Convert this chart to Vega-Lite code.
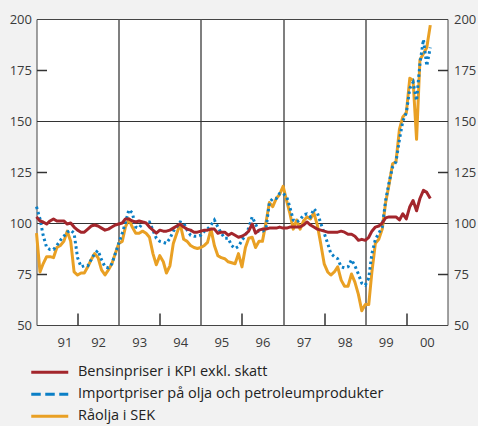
{
"$schema": "https://vega.github.io/schema/vega-lite/v6.json",
"width": 411, "height": 306,
"autosize": "none",
"padding": {"left": 36.5, "top": 19, "right": 30.5, "bottom": 101},
"background": "#f2f2f2",
"config": {
  "view": {"fill": "white", "stroke": "#444", "strokeWidth": 1},
  "axis": {"labelFont": "Open Sans", "labelFontSize": 13, "labelColor": "#3a3a3a", "tickColor": "#333", "tickWidth": 1.5, "domain": false, "title": null}
},
"data": {"values": [
{"m":"1991-01","a":103,"b":108,"c":95},{"m":"1991-02","a":101,"b":102,"c":76},{"m":"1991-03","a":100.5,"b":94,"c":80},{"m":"1991-04","a":99.5,"b":88,"c":83.5},{"m":"1991-05","a":101,"b":87,"c":83.5},{"m":"1991-06","a":102,"b":87,"c":83},{"m":"1991-07","a":101,"b":89,"c":88},{"m":"1991-08","a":101,"b":91.5,"c":89},{"m":"1991-09","a":101,"b":93.5,"c":91},{"m":"1991-10","a":99.5,"b":95.5,"c":96},{"m":"1991-11","a":100,"b":96.5,"c":91},{"m":"1991-12","a":98,"b":95,"c":76},
{"m":"1992-01","a":96.5,"b":83,"c":74.5},{"m":"1992-02","a":95.5,"b":78.5,"c":75.5},{"m":"1992-03","a":95.5,"b":79,"c":75.5},{"m":"1992-04","a":97,"b":79,"c":78.5},{"m":"1992-05","a":98.5,"b":82,"c":82},{"m":"1992-06","a":99,"b":85,"c":85},{"m":"1992-07","a":98.5,"b":86.5,"c":83},{"m":"1992-08","a":97.5,"b":82,"c":77},{"m":"1992-09","a":96.5,"b":78.5,"c":74.5},{"m":"1992-10","a":97,"b":78,"c":77},{"m":"1992-11","a":98,"b":80,"c":80},{"m":"1992-12","a":99,"b":85,"c":85},
{"m":"1993-01","a":99.5,"b":90,"c":90},{"m":"1993-02","a":100,"b":95,"c":91},{"m":"1993-03","a":102,"b":100,"c":98},{"m":"1993-04","a":102,"b":106.5,"c":102},{"m":"1993-05","a":101,"b":105,"c":98},{"m":"1993-06","a":100.5,"b":98,"c":95},{"m":"1993-07","a":101,"b":97.5,"c":95},{"m":"1993-08","a":100.5,"b":100,"c":96},{"m":"1993-09","a":100,"b":100.5,"c":95},{"m":"1993-10","a":98,"b":100.5,"c":93},{"m":"1993-11","a":96.5,"b":96.5,"c":85},{"m":"1993-12","a":95,"b":92.5,"c":79.5},
{"m":"1994-01","a":96.5,"b":91,"c":84},{"m":"1994-02","a":96,"b":90.5,"c":81},{"m":"1994-03","a":96,"b":90,"c":75.5},{"m":"1994-04","a":96.5,"b":92.5,"c":79},{"m":"1994-05","a":97.5,"b":96,"c":90},{"m":"1994-06","a":98.5,"b":98,"c":95},{"m":"1994-07","a":99.5,"b":100.5,"c":99.5},{"m":"1994-08","a":98,"b":100,"c":92},{"m":"1994-09","a":97,"b":96.5,"c":91},{"m":"1994-10","a":96.5,"b":94,"c":89},{"m":"1994-11","a":95.5,"b":93.5,"c":88},{"m":"1994-12","a":95.5,"b":93.5,"c":87.5},
{"m":"1995-01","a":96,"b":94,"c":88},{"m":"1995-02","a":96.5,"b":96,"c":89},{"m":"1995-03","a":96.5,"b":97,"c":90.5},{"m":"1995-04","a":97,"b":99,"c":97},{"m":"1995-05","a":97,"b":101.5,"c":89},{"m":"1995-06","a":95,"b":98,"c":84},{"m":"1995-07","a":95.5,"b":95,"c":83},{"m":"1995-08","a":95.5,"b":92.5,"c":82.5},{"m":"1995-09","a":94,"b":92.5,"c":81},{"m":"1995-10","a":95,"b":89,"c":80.5},{"m":"1995-11","a":94,"b":87.5,"c":80},{"m":"1995-12","a":93,"b":88.5,"c":85},
{"m":"1996-01","a":93.5,"b":91.5,"c":78.5},{"m":"1996-02","a":94.5,"b":94,"c":88},{"m":"1996-03","a":96,"b":97.5,"c":92.5},{"m":"1996-04","a":99.5,"b":103,"c":93},{"m":"1996-05","a":95,"b":99.5,"c":88},{"m":"1996-06","a":96.5,"b":96,"c":91},{"m":"1996-07","a":97,"b":96,"c":91},{"m":"1996-08","a":97,"b":97,"c":100},{"m":"1996-09","a":97.5,"b":110,"c":110},{"m":"1996-10","a":97.5,"b":112,"c":108},{"m":"1996-11","a":97.5,"b":112,"c":112},{"m":"1996-12","a":98,"b":114.5,"c":114},
{"m":"1997-01","a":97.5,"b":114.5,"c":118},{"m":"1997-02","a":97.5,"b":113,"c":111},{"m":"1997-03","a":98,"b":108,"c":105},{"m":"1997-04","a":98,"b":101.5,"c":97},{"m":"1997-05","a":98,"b":100.5,"c":101.5},{"m":"1997-06","a":98,"b":101.5,"c":97},{"m":"1997-07","a":99,"b":104,"c":101},{"m":"1997-08","a":100.5,"b":104.5,"c":103},{"m":"1997-09","a":99,"b":103,"c":102},{"m":"1997-10","a":98,"b":107,"c":105},{"m":"1997-11","a":97,"b":105,"c":99},{"m":"1997-12","a":96.5,"b":100,"c":90},
{"m":"1998-01","a":96,"b":95,"c":80},{"m":"1998-02","a":95.5,"b":90,"c":76},{"m":"1998-03","a":95.5,"b":85,"c":74.5},{"m":"1998-04","a":95.5,"b":83.5,"c":76},{"m":"1998-05","a":95.5,"b":82.5,"c":78.5},{"m":"1998-06","a":96,"b":78.5,"c":72},{"m":"1998-07","a":95.5,"b":78,"c":69},{"m":"1998-08","a":94.5,"b":78.5,"c":69},{"m":"1998-09","a":94.5,"b":82,"c":75},{"m":"1998-10","a":93.5,"b":79,"c":71},{"m":"1998-11","a":91.5,"b":75,"c":65},{"m":"1998-12","a":92,"b":70.5,"c":57},
{"m":"1999-01","a":91.5,"b":69.5,"c":60},{"m":"1999-02","a":93,"b":73,"c":60},{"m":"1999-03","a":96,"b":85,"c":76},{"m":"1999-04","a":98,"b":92,"c":90},{"m":"1999-05","a":98.5,"b":95,"c":92},{"m":"1999-06","a":100,"b":98,"c":97},{"m":"1999-07","a":102.5,"b":111,"c":110},{"m":"1999-08","a":103,"b":120,"c":119},{"m":"1999-09","a":103,"b":127.5,"c":129},{"m":"1999-10","a":103,"b":130,"c":130},{"m":"1999-11","a":101.5,"b":141,"c":146},{"m":"1999-12","a":104.5,"b":150,"c":152},
{"m":"2000-01","a":102,"b":154,"c":154},{"m":"2000-02","a":108,"b":166,"c":171},{"m":"2000-03","a":111,"b":169,"c":170},{"m":"2000-04","a":106,"b":160,"c":141},{"m":"2000-05","a":112,"b":178,"c":180},{"m":"2000-06","a":116,"b":190,"c":183},{"m":"2000-07","a":115,"b":177,"c":186},{"m":"2000-08","a":112,"b":186,"c":197}
]},
"transform": [{"fold": ["a", "b", "c"], "as": ["k", "v"]}],
"layer": [
  {
    "transform": [{"filter": "datum.k == 'c'"}],
    "mark": {"type": "line", "strokeWidth": 3, "strokeJoin": "round"},
    "encoding": {
      "x": {"field": "m", "type": "temporal",
        "scale": {"type": "utc", "domain": [{"year": 1991, "utc": true}, {"year": 2001, "utc": true}]},
        "axis": {"orient": "bottom", "format": "%y", "labelOffset": 20.5, "ticks": false, "grid": false, "labelPadding": 11,
          "values": [{"year":1991,"utc":true},{"year":1992,"utc":true},{"year":1993,"utc":true},{"year":1994,"utc":true},{"year":1995,"utc":true},{"year":1996,"utc":true},{"year":1997,"utc":true},{"year":1998,"utc":true},{"year":1999,"utc":true},{"year":2000,"utc":true}]}},
      "y": {"field": "v", "type": "quantitative",
        "scale": {"domain": [50, 200], "nice": false, "zero": false},
        "axis": {"orient": "left", "values": [50, 75, 100, 125, 150, 175, 200], "ticks": false, "grid": false, "labelPadding": 5}},
      "color": {"field": "k", "type": "nominal",
        "scale": {"domain": ["a", "b", "c"], "range": ["#a3262c", "#0b7fc6", "#e9a024"]},
        "legend": {"title": null, "orient": "none", "legendX": 6, "legendY": 346, "direction": "vertical",
          "symbolType": "M-3.7,0H3.7", "symbolSize": 100, "symbolStrokeWidth": 3, "labelOffset": 21, "rowPadding": 7,
          "labelFontSize": 14.5, "labelFont": "Open Sans", "labelColor": "#222", "padding": 0, "labelLimit": 0,
          "labelExpr": "datum.label == 'a' ? 'Bensinpriser i KPI exkl. skatt' : datum.label == 'b' ? 'Importpriser på olja och petroleumprodukter' : 'Råolja i SEK'",
          "encode": {"symbols": {"update": {"strokeDash": {"signal": "datum.value == 'b' ? [9.5, 4.5] : [1, 0]"}}}}}}
    }
  },
  {
    "transform": [{"filter": "datum.k == 'b'"}],
    "mark": {"type": "line", "strokeWidth": 3, "strokeDash": [2.5, 3]},
    "encoding": {
      "x": {"field": "m", "type": "temporal",
        "axis": {"orient": "bottom", "labels": false, "ticks": false, "grid": true, "gridColor": "#555", "gridWidth": 1.5,
          "values": [{"year":1993,"utc":true},{"year":1995,"utc":true},{"year":1997,"utc":true},{"year":1999,"utc":true}]}},
      "y": {"field": "v", "type": "quantitative",
        "axis": {"orient": "right", "values": [50, 75, 100, 125, 150, 175, 200], "ticks": false, "grid": false, "labelPadding": 6}},
      "color": {"field": "k", "type": "nominal", "legend": null}
    }
  },
  {
    "transform": [{"filter": "datum.k == 'a'"}],
    "mark": {"type": "line", "strokeWidth": 3, "strokeJoin": "round"},
    "encoding": {
      "x": {"field": "m", "type": "temporal",
        "axis": {"orient": "bottom", "labels": false, "ticks": true, "tickSize": -12, "grid": false,
          "values": [{"year":1992,"utc":true},{"year":1994,"utc":true},{"year":1996,"utc":true},{"year":1998,"utc":true},{"year":2000,"utc":true}]}},
      "y": {"field": "v", "type": "quantitative",
        "axis": {"orient": "left", "values": [100, 150], "labels": false, "ticks": false, "grid": true, "gridColor": "#333", "gridWidth": 1}},
      "color": {"field": "k", "type": "nominal"}
    }
  },
  {
    "mark": {"type": "line", "opacity": 0},
    "encoding": {
      "x": {"field": "m", "type": "temporal", "axis": null},
      "y": {"field": "v", "type": "quantitative",
        "axis": {"orient": "left", "values": [75, 125, 175], "labels": false, "ticks": true, "tickSize": -10, "grid": false}}
    }
  },
  {
    "mark": {"type": "line", "opacity": 0},
    "encoding": {
      "x": {"field": "m", "type": "temporal", "axis": null},
      "y": {"field": "v", "type": "quantitative",
        "axis": {"orient": "right", "values": [75, 125, 175], "labels": false, "ticks": true, "tickSize": -10, "grid": false}}
    }
  }
],
"resolve": {"scale": {"x": "shared", "y": "shared", "color": "shared"}, "axis": {"x": "independent", "y": "independent"}}
}
